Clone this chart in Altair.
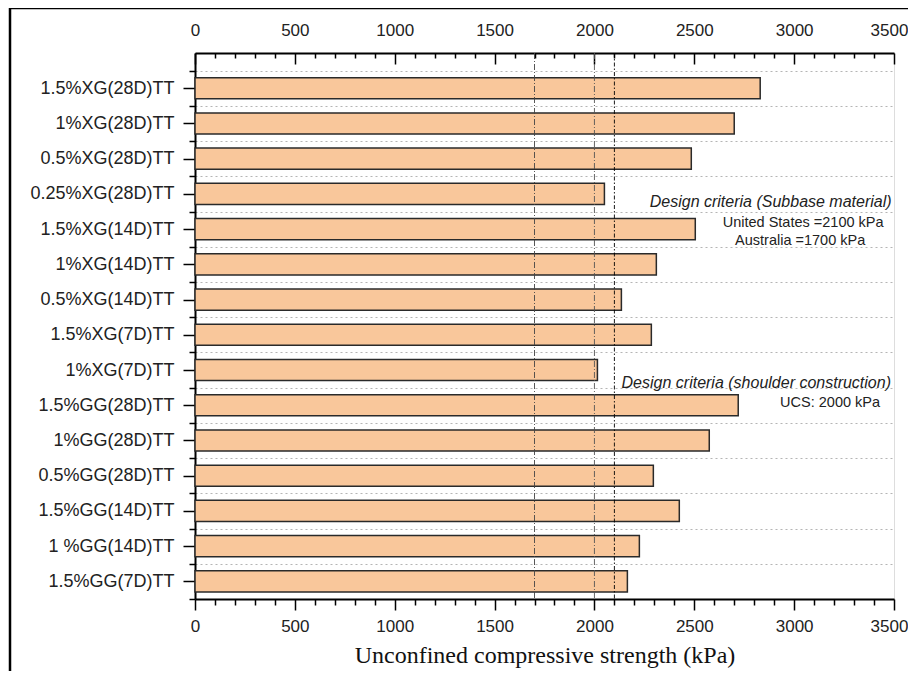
import altair as alt
import pandas as pd

categories = [
    "1.5%XG(28D)TT", "1%XG(28D)TT", "0.5%XG(28D)TT", "0.25%XG(28D)TT",
    "1.5%XG(14D)TT", "1%XG(14D)TT", "0.5%XG(14D)TT", "1.5%XG(7D)TT",
    "1%XG(7D)TT", "1.5%GG(28D)TT", "1%GG(28D)TT", "0.5%GG(28D)TT",
    "1.5%GG(14D)TT", "1 %GG(14D)TT", "1.5%GG(7D)TT",
]
ucs = [2830, 2700, 2485, 2050, 2505, 2310, 2135, 2285, 2015, 2720, 2575, 2295, 2425, 2225, 2165]

criteria_names = ["Australia", "Shoulder", "United States"]
criteria_values = [1700, 2000, 2100]

x_major = list(range(0, 3501, 500))
x_all = list(range(0, 3501, 100))

ann_italic = ["Design criteria (Subbase material)", "Design criteria (shoulder construction)"]
ann_italic_x = [3488, 3485]
ann_italic_y = [4.22, 9.36]
ann_plain = ["United States =2100 kPa", "Australia =1700 kPa", "UCS: 2000 kPa"]
ann_plain_x = [3045, 3030, 3180]
ann_plain_y = [4.82, 5.33, 9.93]

df = pd.DataFrame({"sample": categories, "ucs": ucs, "pos": list(range(1, len(categories) + 1))})
crit = pd.DataFrame({"name": criteria_names, "value": criteria_values})
it_df = pd.DataFrame({"text": ann_italic, "x": ann_italic_x, "y": ann_italic_y})
pl_df = pd.DataFrame({"text": ann_plain, "x": ann_plain_x, "y": ann_plain_y})

W, H = 699, 546
FONT = "Liberation Sans"

xscale = alt.Scale(domain=[0, 3500], nice=False, zero=False)
yscale = alt.Scale(domain=[0, 15.5], nice=False, zero=False, reverse=True)

last_shift = {"condition": {"test": "datum.value === 3500", "value": -5}, "value": 0}

y_values = [i / 2 for i in range(1, 32)]
label_arr = "[''," + ",".join("'" + c + "'" for c in categories) + "]"
y_axis = alt.Axis(
    values=y_values,
    labelExpr=f"(datum.value % 1 === 0) ? {label_arr}[datum.value] : ''",
    labelOverlap=False, labelFlush=False, labelBound=False,
    tickSize={"condition": {"test": "datum.value % 1 === 0", "value": 12}, "value": 6},
    tickColor="black", tickWidth=1.5,
    domainColor="black", domainWidth=2,
    labelFont=FONT, labelFontSize=18, labelColor="#222", labelPadding=9,
    grid=True, gridDash=[2, 3], gridColor="#b5b5b5", gridWidth=1,
    gridOpacity={"condition": {"test": "datum.value % 1 !== 0 && datum.value < 15", "value": 1}, "value": 0},
    title=None,
)

bottom_axis = alt.Axis(
    orient="bottom", values=x_all, format="d",
    labelExpr="datum.value % 500 === 0 ? datum.label : ''",
    labelOffset=last_shift,
    tickSize={"condition": {"test": "datum.value % 500 === 0", "value": 11}, "value": 6},
    tickColor="black", tickWidth=1.5,
    domainColor="black", domainWidth=2,
    labelFont=FONT, labelFontSize=17, labelColor="#222", labelPadding=8,
    labelOverlap=False, labelFlush=False, grid=False,
    title="Unconfined compressive strength (kPa)",
    titleFont="Liberation Serif", titleFontSize=24, titleFontWeight="normal",
    titleColor="#111", titlePadding=9,
)

top_axis = alt.Axis(
    orient="top", values=x_major, format="d", ticks=False,
    labelOffset=last_shift,
    domainColor="black", domainWidth=2,
    labelFont=FONT, labelFontSize=17, labelColor="#222", labelPadding=14,
    labelFlush=False, grid=False, title=None,
)

inner_top_axis = alt.Axis(
    orient="bottom", offset=-H, values=x_all, labels=False, domain=False,
    tickSize={"condition": {"test": "datum.value % 500 === 0", "value": 11}, "value": 5},
    tickColor="black", tickWidth=1.5, grid=False, title=None,
)

bars = alt.Chart(df).transform_calculate(
    y0="datum.pos - 0.3", y1="datum.pos + 0.3", x0="0"
).mark_rect(fill="#F9C79B", stroke="#2a2a2a", strokeWidth=1.5).encode(
    x=alt.X("x0:Q", scale=xscale, axis=bottom_axis),
    x2="ucs:Q",
    y=alt.Y("y0:Q", scale=yscale, axis=y_axis),
    y2="y1:Q",
)

rules = alt.Chart(crit).mark_rule().encode(
    x=alt.X("value:Q", scale=xscale, axis=top_axis),
    color=alt.Color("name:N", scale=alt.Scale(domain=criteria_names, range=["#444444", "#555555", "#000000"]), legend=None),
    strokeDash=alt.StrokeDash("name:N", scale=alt.Scale(domain=criteria_names, range=[[6, 2, 1, 2], [6, 2, 1, 2], [4, 2, 1.5, 2]]), legend=None),
    strokeWidth=alt.StrokeWidth("name:N", scale=alt.Scale(domain=criteria_names, range=[0.9, 0.9, 1.4]), legend=None),
)

txt_it = alt.Chart(it_df).mark_text(
    align="right", baseline="middle", font=FONT, fontSize=16, fontStyle="italic", color="#222"
).encode(
    x=alt.X("x:Q", scale=xscale, axis=inner_top_axis),
    y=alt.Y("y:Q", scale=yscale, axis=y_axis),
    text="text:N",
)

txt_pl = alt.Chart(pl_df).mark_text(
    align="center", baseline="middle", font=FONT, fontSize=14.5, color="#222"
).encode(
    x=alt.X("x:Q", scale=xscale, axis=None),
    y=alt.Y("y:Q", scale=yscale, axis=y_axis),
    text="text:N",
)

frame = alt.Chart(pd.DataFrame({"f": [0]})).mark_rect(
    fill=None, filled=False, stroke="black", strokeWidth=2.5
).encode(
    x=alt.value(-185), x2=alt.value(900), y=alt.value(-45), y2=alt.value(700)
)

chart = alt.layer(bars, rules, txt_it, txt_pl, frame).resolve_scale(
    x="independent"
).properties(
    width=W, height=H,
    autosize=alt.AutoSizeParams(type="none"),
    padding={"left": 187, "top": 45, "right": 14, "bottom": 72},
).configure_view(stroke="black", strokeWidth=2).configure(background="white")

chart.save("out.html", embed_options={"renderer": "svg", "actions": False})
